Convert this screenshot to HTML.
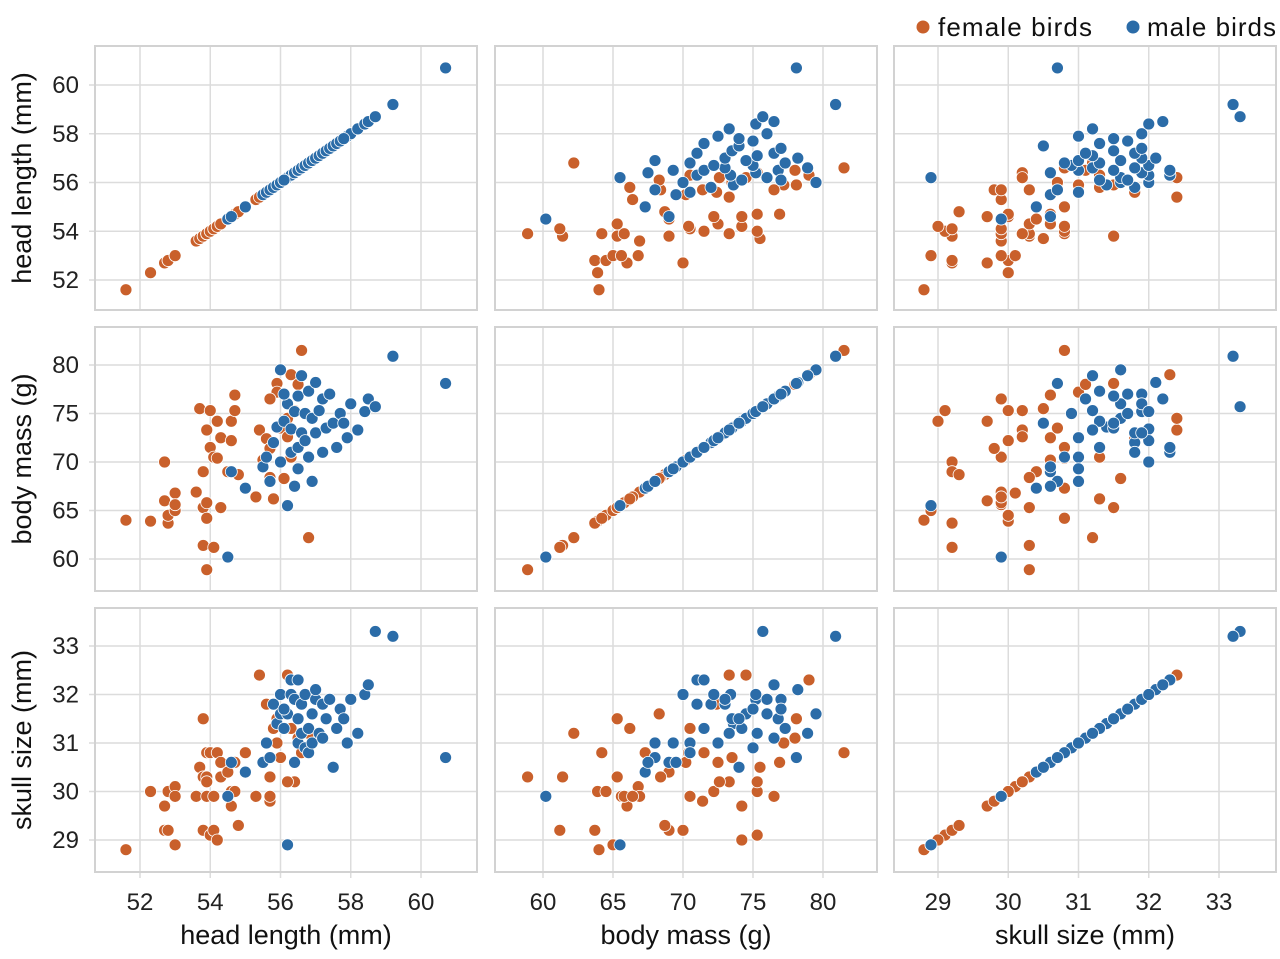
<!DOCTYPE html>
<html><head><meta charset="utf-8">
<style>
body{margin:0;background:#fff;}
svg{display:block;font-family:"Liberation Sans",sans-serif;}
</style></head>
<body>
<svg id="chart" width="1280" height="959" viewBox="0 0 1280 959"></svg>
<script>
const varNames = ["head length (mm)", "body mass (g)", "skull size (mm)"];
const tickValues = [[52,54,56,58,60],[60,65,70,75,80],[29,30,31,32,33]];
const femaleHead = [51.6,52.3,52.7,52.7,52.8,52.8,53.0,53.0,53.0,53.6,53.7,53.8,53.8,53.8,53.9,53.9,53.9,53.9,54.0,54.0,54.1,54.1,54.2,54.2,54.3,54.3,54.5,54.6,54.6,54.7,54.7,54.8,55.0,55.3,55.4,55.5,55.6,55.7,55.7,55.8,55.9,55.9,56.0,56.1,56.2,56.3,56.3,56.4,56.5,56.6,56.8,56.2,55.7];
const femaleMass = [64.0,63.9,70.0,66.0,63.7,64.5,66.8,65.0,65.6,66.9,75.5,69.0,65.3,61.4,64.2,58.9,65.8,73.3,75.3,71.5,70.5,61.2,74.2,70.4,72.5,65.3,69.0,72.2,74.2,76.9,75.3,68.7,67.3,66.4,73.3,70.2,72.4,71.4,68.4,66.2,78.1,77.2,73.5,68.3,74.5,70.5,79.0,75.3,78.0,81.5,62.2,72.6,76.5];
const femaleSkull = [28.8,30.0,29.2,29.7,29.2,30.0,30.1,28.9,29.9,29.9,30.5,29.2,31.5,30.3,30.8,30.3,29.9,30.2,29.1,30.8,29.9,29.2,29.0,30.8,30.6,30.3,30.4,30.0,29.7,30.6,30.0,29.3,30.8,29.9,32.4,30.6,31.8,29.8,30.3,31.3,31.5,31.0,30.7,31.6,32.4,31.3,32.3,30.2,31.1,30.8,31.2,30.2,29.9];
const maleHead = [54.5,54.6,55.0,55.5,55.6,55.7,55.8,55.9,56.0,56.0,56.1,56.2,56.2,56.3,56.3,56.4,56.4,56.5,56.5,56.5,56.6,56.6,56.7,56.7,56.8,56.8,56.9,56.9,57.0,57.0,57.1,57.2,57.2,57.3,57.4,57.5,57.6,57.7,57.9,58.0,58.2,58.4,58.5,58.7,59.2,60.7,57.8,56.1];
const maleMass = [60.2,69.0,67.3,69.5,70.5,68.0,72.0,73.6,79.5,70.0,74.2,65.5,76.0,71.0,73.4,67.5,75.2,69.3,76.8,71.5,73.0,78.9,75.0,72.2,70.5,77.3,74.5,68.0,73.0,78.2,75.3,71.0,76.5,73.5,77.0,74.0,71.5,75.0,72.5,76.0,73.3,75.2,76.5,75.7,80.9,78.1,74.0,77.0];
const maleSkull = [29.9,30.6,30.4,30.6,31.0,30.7,31.8,31.4,31.6,32.0,31.3,28.9,31.6,32.3,32.0,30.6,31.9,31.0,31.5,32.3,31.8,31.2,30.9,32.0,30.8,31.3,31.6,31.0,31.9,32.1,31.2,31.8,31.1,31.5,31.9,30.5,31.3,31.7,31.0,31.9,31.2,32.0,32.2,33.3,33.2,30.7,31.5,31.7];

const NS = "http://www.w3.org/2000/svg";
const svg = document.getElementById("chart");
const colX = [95, 495, 894], panW = 382;
const rowY = [46, 327, 608], panH = 264;
const xTickPx = [[140,421],[543,823],[938,1219]];
const yTickPx = [[280,85],[559,365],[840,646]];
const femaleCol = "#c9602b", maleCol = "#2b6ca8";
const femaleVals = [femaleHead, femaleMass, femaleSkull];
const maleVals = [maleHead, maleMass, maleSkull];

function xScale(c, v){const t=tickValues[c];return xTickPx[c][0]+(v-t[0])*(xTickPx[c][1]-xTickPx[c][0])/(t[t.length-1]-t[0]);}
function yScale(r, v){const t=tickValues[r];return yTickPx[r][0]+(v-t[0])*(yTickPx[r][1]-yTickPx[r][0])/(t[t.length-1]-t[0]);}
function mk(tag, attrs, parent){const e=document.createElementNS(NS,tag);for(const k in attrs)e.setAttribute(k,attrs[k]);(parent||svg).appendChild(e);return e;}

for(let r=0;r<3;r++){
  for(let c=0;c<3;c++){
    const g = mk("g",{});
    
    
    mk("rect",{x:colX[c],y:rowY[r],width:panW,height:panH,fill:"#fff"},g);
    tickValues[c].forEach(v=>{const x=xScale(c,v);
      const l=mk("line",{x1:x,x2:x,y1:rowY[r],y2:rowY[r]+panH+(r===2?6:0),stroke:"#dcdcdc","stroke-width":1.5},g);
      
      });
    tickValues[r].forEach(v=>{const y=yScale(r,v);
      const l=mk("line",{x1:colX[c]-(c===0?6:0),x2:colX[c]+panW,y1:y,y2:y,stroke:"#dcdcdc","stroke-width":1.5},g);
      
      });
    mk("rect",{x:colX[c],y:rowY[r],width:panW,height:panH,fill:"none",stroke:"#d2d2d2","stroke-width":2},g);
    [[femaleVals,femaleCol,'female-point'],[maleVals,maleCol,'male-point']].forEach(([vals,col,nm])=>{
      const xs=vals[c], ys=vals[r];
      for(let i=0;i<xs.length;i++){
        const p=mk("circle",{cx:xScale(c,xs[i]),cy:yScale(r,ys[i]),r:6,fill:col,stroke:"#fff","stroke-width":0.8},g);
        
        
      }
    });
  }
}
for(let c=0;c<3;c++){
  tickValues[c].forEach(v=>{const t=mk("text",{x:xScale(c,v),y:910,"text-anchor":"middle","font-size":24,fill:"#222"});t.textContent=v;
    
    });
  const ti=mk("text",{x:colX[c]+panW/2,y:944,"text-anchor":"middle","font-size":27,fill:"#111"});ti.textContent=varNames[c];
  
  
}
for(let r=0;r<3;r++){
  tickValues[r].forEach(v=>{const t=mk("text",{x:79,y:yScale(r,v)+8,"text-anchor":"end","font-size":24,fill:"#222"});t.textContent=v;
    
    });
  const cy=rowY[r]+panH/2;
  const ti=mk("text",{x:0,y:0,transform:"translate(31,"+cy+") rotate(-90)","text-anchor":"middle","font-size":27,fill:"#111"});ti.textContent=varNames[r];
  
  
}
const lg=mk("g",{});


[[923,938,femaleCol,"female birds"],[1133,1147,maleCol,"male birds"]].forEach(([cx,tx,col,lab])=>{
  const d=mk("circle",{cx:cx,cy:27,r:6.5,fill:col},lg);
  
  
  const t=mk("text",{x:tx,y:36,"font-size":26,fill:"#111",textLength:(lab==="female birds"?154:129)},lg);t.textContent=lab;
  
  
});
</script>
</body></html>
